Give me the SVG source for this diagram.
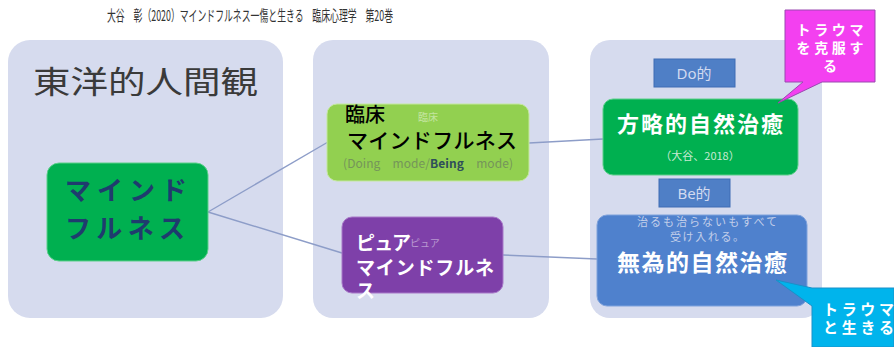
<svg xmlns="http://www.w3.org/2000/svg" width="894" height="347" viewBox="0 0 894 347">
<style>
text{font-family:"Noto Sans CJK JP","Noto Sans",sans-serif;}
.panel{fill:#d6dbee;}
.conn{stroke:#8d9dc8;stroke-width:1.4;fill:none;}
.wb{fill:#ffffff;font-weight:bold;}
.ghost{fill:#ffffff;opacity:0.45;font-size:10px;}
.tag{fill:#4f7fc6;stroke:#3f6db4;stroke-width:1;}
.tagt{fill:#d2daf0;font-size:15px;font-family:"Noto Sans","Noto Sans CJK JP",sans-serif;}
</style>
<rect width="894" height="347" fill="#ffffff"/>
<text id="title" x="250" y="21" text-anchor="middle" font-size="15" fill="#333333" textLength="286" lengthAdjust="spacingAndGlyphs">大谷　彰（2020）マインドフルネス一傷と生きる　臨床心理学　第20巻</text>
<g id="panel-east">
<rect class="panel" x="8" y="40" width="275" height="278" rx="22"/>
<text x="33" y="93" font-size="31" fill="#3a3a3a" textLength="225" lengthAdjust="spacingAndGlyphs">東洋的人間観</text>
</g>
<g id="panel-mid"><rect class="panel" x="313" y="40" width="236" height="278" rx="20"/></g>
<g id="panel-right"><rect class="panel" x="590" y="40" width="232" height="278" rx="20"/></g>
<g id="connectors">
<line class="conn" x1="208" y1="212" x2="328" y2="142"/>
<line class="conn" x1="208" y1="212" x2="342" y2="253"/>
<line class="conn" x1="529" y1="143" x2="603" y2="139"/>
<line class="conn" x1="503" y1="255" x2="597" y2="259"/>
</g>
<g id="node-mindfulness">
<rect x="47" y="163" width="161" height="98" rx="12" fill="#00b050" stroke="#5ccf8a" stroke-width="1"/>
<text x="65" y="200" font-size="26" font-weight="bold" fill="#1f3b6e" textLength="122" lengthAdjust="spacing">マインド</text>
<text x="65" y="238" font-size="26" font-weight="bold" fill="#1f3b6e" textLength="120" lengthAdjust="spacing">フルネス</text>
</g>
<g id="node-clinical">
<rect x="327" y="104" width="202" height="77" rx="10" fill="#92d050" stroke="#c5e8a0" stroke-width="1"/>
<text class="ghost" x="428" y="121" text-anchor="middle">臨床</text>
<text x="345" y="122" font-size="20" fill="#000000" font-weight="500">臨床</text>
<text x="347" y="148" font-size="21" fill="#000000" font-weight="500" textLength="170" lengthAdjust="spacing">マインドフルネス</text>
<text x="343" y="168" font-size="12" fill="#75955a" textLength="170" lengthAdjust="spacing" font-family="Noto Sans,sans-serif">(Doing　mode/<tspan font-weight="bold" fill="#2f4f5a">Being</tspan>　mode)</text>
</g>
<g id="node-pure">
<rect x="342" y="217" width="161" height="76" rx="10" fill="#7e40a9" stroke="#a878c8" stroke-width="1"/>
<text class="ghost" x="410" y="247">ピュア</text>
<text class="wb" x="356" y="250" font-size="19" textLength="55" lengthAdjust="spacing">ピュア</text>
<text class="wb" x="356" y="275" font-size="19" textLength="138" lengthAdjust="spacing">マインドフルネ</text>
<text class="wb" x="356" y="298" font-size="19">ス</text>
</g>
<g id="tag-do">
<rect class="tag" x="654" y="59" width="81" height="28"/>
<text class="tagt" x="694" y="79" text-anchor="middle">Do的</text>
</g>
<g id="node-strategic">
<rect x="603" y="99" width="195" height="76" rx="10" fill="#00b050" stroke="#5ccf8a" stroke-width="1"/>
<text class="wb" x="617" y="132" font-size="22" textLength="166" lengthAdjust="spacing">方略的自然治癒</text>
<text x="700" y="160" text-anchor="middle" font-size="11" fill="#c9ead3">（大谷、2018）</text>
</g>
<g id="tag-be">
<rect class="tag" x="659" y="179" width="71" height="28"/>
<text class="tagt" x="694" y="199" text-anchor="middle">Be的</text>
</g>
<g id="node-wui">
<rect x="597" y="215" width="210" height="91" rx="10" fill="#4f81cd" stroke="#7fa2dc" stroke-width="1"/>
<text x="707" y="226" text-anchor="middle" font-size="11" fill="#c3cfea" textLength="140" lengthAdjust="spacing">治るも治らないもすべて</text>
<text x="707" y="241" text-anchor="middle" font-size="11" fill="#c3cfea" textLength="74" lengthAdjust="spacing">受け入れる。</text>
<text class="wb" x="617" y="271" font-size="23" textLength="170" lengthAdjust="spacing">無為的自然治癒</text>
</g>
<g id="callout-overcome">
<path d="M785,10 H875 V82 H822 L778,103 L803,82 H785 Z" fill="#f340f0" stroke="#9a48b0" stroke-width="1"/>
<text class="wb" x="830" y="35" text-anchor="middle" font-size="14" textLength="67" lengthAdjust="spacing">トラウマ</text>
<text class="wb" x="830" y="53" text-anchor="middle" font-size="14" textLength="67" lengthAdjust="spacing">を克服す</text>
<text class="wb" x="830" y="71" text-anchor="middle" font-size="14">る</text>
</g>
<g id="callout-live">
<path d="M812,288 H894 V347 H812 V306 L776,280 Z" fill="#00b4ec" stroke="#1a90c8" stroke-width="1"/>
<text class="wb" x="823" y="315" font-size="15" textLength="71" lengthAdjust="spacing">トラウマ</text>
<text class="wb" x="823" y="333" font-size="15" textLength="71" lengthAdjust="spacing">と生きる</text>
</g>
</svg>
